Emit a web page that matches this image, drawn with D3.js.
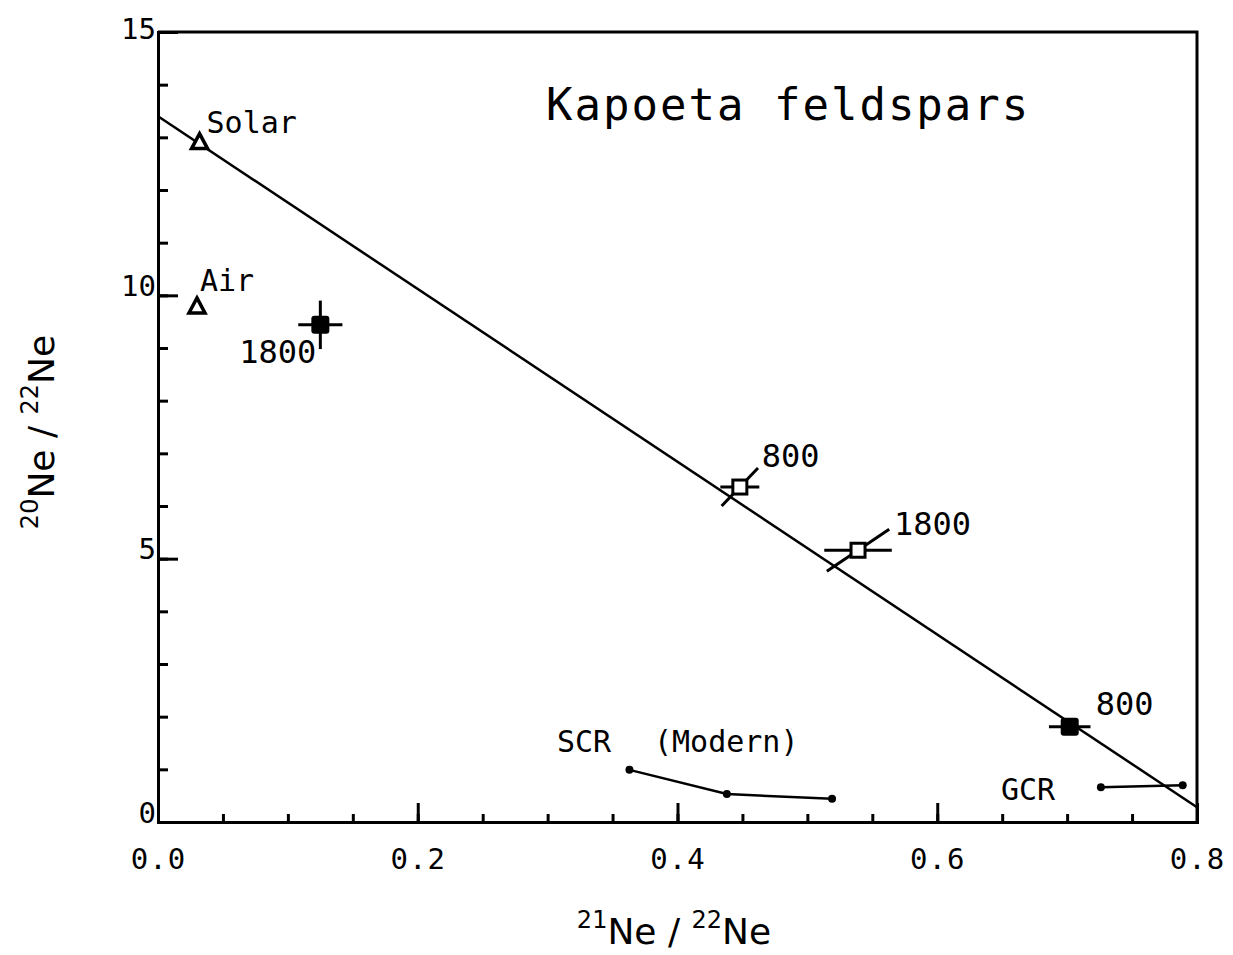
<!DOCTYPE html>
<html>
<head>
<meta charset="utf-8">
<script src="https://cdn.jsdelivr.net/npm/d3@7"></script>
<style>
  body { margin: 0; background: #fff; }
  text { fill: #000; }
  .mono { font-family: "DejaVu Sans Mono", monospace; }
  .sans { font-family: "DejaVu Sans", sans-serif; }
</style>
</head>
<body>
<svg id="chart"></svg>
<script>
// fitted line
var fitX = [0, 0.8];
var fitY = [13.4, 0.28];

// reference compositions
var refNames = ["Solar", "Air"];
var refX = [0.032, 0.030];
var refY = [12.9, 9.78];

// Kapoeta feldspar measurements
var sampleLabels = ["1800", "800", "1800", "800"];
var sampleX = [0.125, 0.448, 0.539, 0.702];
var sampleY = [9.44, 6.36, 5.16, 1.81];
var sampleXErr = [0.017, 0.015, 0.026, 0.016];
var sampleYErr = [0.46, 0, 0, 0];
var sampleFilled = [true, false, false, true];
var slantDX = [0, 0.014, 0.024, 0];   // correlated error lines
var slantDY = [0, 0.36, 0.40, 0];

// cosmic ray production
var scrX = [0.363, 0.438, 0.519];
var scrY = [0.99, 0.53, 0.44];
var gcrX = [0.726, 0.789];
var gcrY = [0.66, 0.70];

var xMajor = [0, 0.2, 0.4, 0.6, 0.8];
var yMajor = [0, 5, 10, 15];

var width = 1233, height = 955;
var svg = d3.select("#chart").attr("width", width).attr("height", height);

var x = d3.scaleLinear().domain([0, 0.8]).range([158, 1197]);
var y = d3.scaleLinear().domain([0, 15]).range([822, 32]);

// frame
svg.append("path")
   .attr("d", "M" + x(0) + "," + y(15) + "H" + x(0.8) + "V" + y(0))
   .attr("fill", "none").attr("stroke", "#000").attr("stroke-width", 3);

// minor ticks
svg.append("g").attr("transform", "translate(0," + y(0) + ")")
   .call(d3.axisBottom(x).tickValues(d3.range(0, 0.8001, 0.05)).tickSize(-8).tickFormat(""))
   .call(function (g) { g.select(".domain").remove(); g.selectAll("line").attr("stroke-width", 3); });
svg.append("g").attr("transform", "translate(" + x(0) + ",0)")
   .call(d3.axisLeft(y).tickValues(d3.range(0, 15.01, 1)).tickSize(-10).tickFormat(""))
   .call(function (g) { g.select(".domain").remove(); g.selectAll("line").attr("stroke-width", 3); });

// major ticks + labels
var xAxis = svg.append("g").attr("transform", "translate(0," + y(0) + ")")
   .call(d3.axisBottom(x).tickValues(xMajor).tickSize(-19).tickPadding(26).tickFormat(d3.format(".1f")));
xAxis.select(".domain").attr("stroke-width", 3);
xAxis.selectAll("line").attr("stroke-width", 3);
xAxis.selectAll("text").attr("class", "mono").style("font-size", "29px").attr("letter-spacing", 1);

var yAxis = svg.append("g").attr("transform", "translate(" + x(0) + ",0)")
   .call(d3.axisLeft(y).tickValues(yMajor).tickSize(-20).tickPadding(4));
yAxis.select(".domain").attr("stroke-width", 3);
yAxis.selectAll("line").attr("stroke-width", 3);
yAxis.selectAll("text").attr("class", "mono").style("font-size", "29px").attr("dy", 0).attr("x", -2);
yAxis.selectAll(".tick").filter(function (d) { return d === 0 || d === 15; }).select("line").remove();
yAxis.selectAll(".tick").filter(function (d) { return d === 15; }).select("text").attr("dy", 6);

// fitted line
svg.append("line")
   .attr("x1", x(fitX[0])).attr("y1", y(fitY[0]))
   .attr("x2", x(fitX[1])).attr("y2", y(fitY[1]))
   .attr("stroke", "#000").attr("stroke-width", 2.5);

// reference triangles
refNames.forEach(function (name, i) {
  var cx = x(refX[i]), cy = y(refY[i]);
  svg.append("path")
     .attr("d", "M" + cx + "," + (cy - 9) + "L" + (cx + 8) + "," + (cy + 6) + "L" + (cx - 8) + "," + (cy + 6) + "Z")
     .attr("fill", "#fff").attr("stroke", "#000").attr("stroke-width", 3.5);
  svg.append("text").attr("class", "mono").attr("font-size", 30)
     .attr("x", cx + (i === 0 ? 7 : 3)).attr("y", cy - (i === 0 ? 10 : 16))
     .text(name);
});

// samples
var labelOffsets = [[-4, 38, "end"], [22, -20, "start"], [36, -15, "start"], [26, -12, "start"]];
sampleLabels.forEach(function (lab, i) {
  var cx = x(sampleX[i]), cy = y(sampleY[i]);
  var g = svg.append("g");
  g.append("line")
   .attr("x1", x(sampleX[i] - sampleXErr[i])).attr("x2", x(sampleX[i] + sampleXErr[i]))
   .attr("y1", cy).attr("y2", cy).attr("stroke", "#000").attr("stroke-width", 3);
  if (sampleYErr[i] > 0) {
    g.append("line")
     .attr("x1", cx).attr("x2", cx)
     .attr("y1", y(sampleY[i] + sampleYErr[i])).attr("y2", y(sampleY[i] - sampleYErr[i]))
     .attr("stroke", "#000").attr("stroke-width", 3);
  }
  if (slantDX[i] > 0) {
    g.append("line")
     .attr("x1", x(sampleX[i] - slantDX[i])).attr("y1", y(sampleY[i] - slantDY[i]))
     .attr("x2", x(sampleX[i] + slantDX[i])).attr("y2", y(sampleY[i] + slantDY[i]))
     .attr("stroke", "#000").attr("stroke-width", 3);
  }
  if (sampleFilled[i]) {
    g.append("rect").attr("x", cx - 9).attr("y", cy - 9).attr("width", 18).attr("height", 18)
     .attr("rx", 3).attr("fill", "#000");
  } else {
    g.append("rect").attr("x", cx - 7).attr("y", cy - 7).attr("width", 14).attr("height", 14)
     .attr("fill", "#fff").attr("stroke", "#000").attr("stroke-width", 3);
  }
  var o = labelOffsets[i];
  svg.append("text").attr("class", "mono").attr("font-size", 32)
     .attr("x", cx + o[0]).attr("y", cy + o[1]).attr("text-anchor", o[2])
     .text(lab);
});

// SCR / GCR lines
var lineGen = d3.line().x(function (d) { return x(d[0]); }).y(function (d) { return y(d[1]); });
[[scrX, scrY], [gcrX, gcrY]].forEach(function (s) {
  var pts = d3.zip(s[0], s[1]);
  svg.append("path").datum(pts).attr("d", lineGen)
     .attr("fill", "none").attr("stroke", "#000").attr("stroke-width", 2.5);
  svg.selectAll(null).data(pts).enter().append("circle")
     .attr("cx", function (d) { return x(d[0]); }).attr("cy", function (d) { return y(d[1]); })
     .attr("r", 4).attr("fill", "#000");
});
svg.append("text").attr("class", "mono").attr("font-size", 30)
   .attr("x", 557).attr("y", 752).text("SCR");
svg.append("text").attr("class", "mono").attr("font-size", 30)
   .attr("x", 654).attr("y", 752).text("(Modern)");
svg.append("text").attr("class", "mono").attr("font-size", 30)
   .attr("x", 1001).attr("y", 800).text("GCR");

// title
svg.append("text").attr("class", "mono").attr("font-size", 44).attr("letter-spacing", 2)
   .attr("x", 546).attr("y", 120).text("Kapoeta feldspars");

// axis titles
var xt = svg.append("text").attr("class", "sans").attr("font-size", 36)
   .attr("x", 674).attr("y", 944).attr("text-anchor", "middle");
xt.append("tspan").attr("font-size", 24).attr("dy", -16).text("21");
xt.append("tspan").attr("dy", 16).text("Ne / ");
xt.append("tspan").attr("font-size", 24).attr("dy", -16).text("22");
xt.append("tspan").attr("dy", 16).text("Ne");

var yt = svg.append("text").attr("class", "sans").attr("font-size", 36)
   .attr("transform", "translate(54,432) rotate(-90)").attr("text-anchor", "middle");
yt.append("tspan").attr("font-size", 24).attr("dy", -16).text("20");
yt.append("tspan").attr("dy", 16).text("Ne / ");
yt.append("tspan").attr("font-size", 24).attr("dy", -16).text("22");
yt.append("tspan").attr("dy", 16).text("Ne");
</script>
</body>
</html>
